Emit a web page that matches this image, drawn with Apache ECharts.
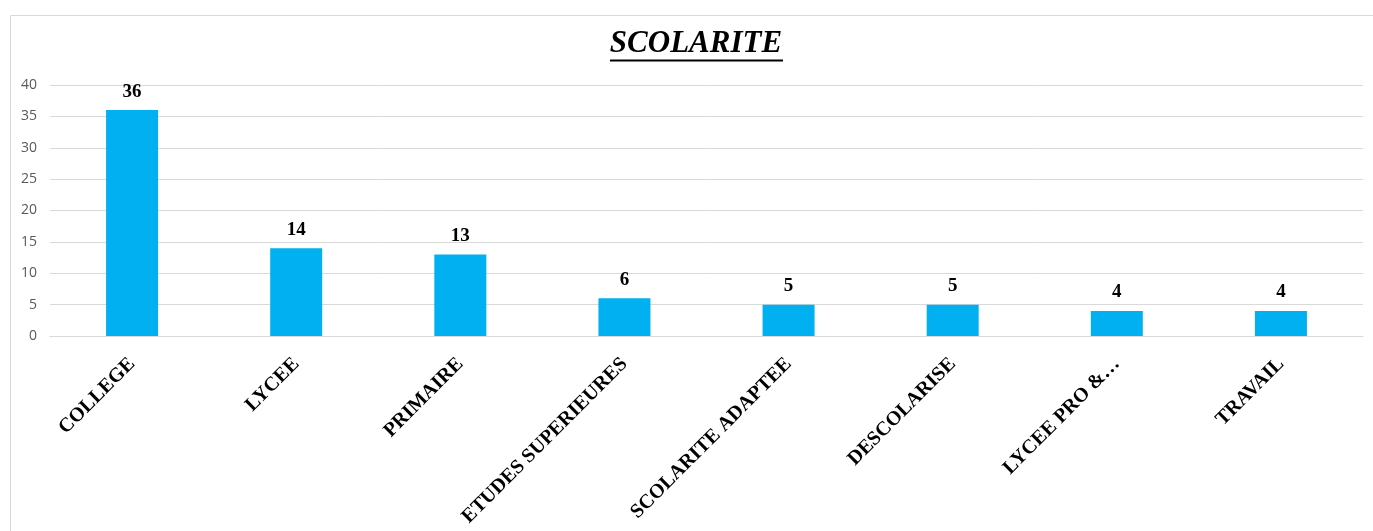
<!DOCTYPE html>
<html>
<head>
<meta charset="utf-8">
<title>SCOLARITE</title>
<script src="https://cdn.jsdelivr.net/npm/echarts@6/dist/echarts.min.js"></script>
<style>
  html, body { margin: 0; padding: 0; background: #fff; }
  #chart { width: 1373px; height: 531px; }
</style>
</head>
<body>
<div id="chart"></div>
<script>
// données
const categories = ['COLLEGE', 'LYCEE', 'PRIMAIRE', 'ETUDES SUPERIEURES', 'SCOLARITE ADAPTEE', 'DESCOLARISE', 'LYCEE PRO &…', 'TRAVAIL']
const values = [36, 14, 13, 6, 5, 5, 4, 4]
const yTicks = { min: 0, max: 40, interval: 5 }

const serif = '"Liberation Serif", "DejaVu Serif", serif'

const chart = echarts.init(document.getElementById('chart'))

const option = {
  animation: false,
  backgroundColor: '#fff',
  graphic: [
    {
      type: 'rect',
      shape: { x: 10.5, y: 15.5, width: 1400, height: 600 },
      style: { fill: 'none', stroke: '#d9d9d9', lineWidth: 1 },
      silent: true
    },
    {
      type: 'text',
      x: 696,
      y: 59,
      style: {
        text: 'SCOLARITE',
        font: 'italic bold 31px ' + serif,
        fill: '#000',
        textAlign: 'center',
        textVerticalAlign: 'bottom'
      }
    },
    {
      type: 'rect',
      shape: { x: 610, y: 59.5, width: 173, height: 2 },
      style: { fill: '#000' },
      silent: true
    }
  ],
  grid: {
    left: 50,
    right: 10,
    top: 85,
    bottom: 195
  },
  xAxis: {
    type: 'category',
    data: categories,
    axisTick: { show: false },
    axisLine: { lineStyle: { color: '#d9d9d9', width: 1 } },
    axisLabel: {
      interval: 0,
      rotate: 45,
      margin: 25,
      color: '#000',
      fontFamily: serif,
      fontWeight: 'bold',
      fontSize: 20
    }
  },
  yAxis: {
    type: 'value',
    min: yTicks.min,
    max: yTicks.max,
    interval: yTicks.interval,
    axisLine: { show: false },
    axisTick: { show: false },
    axisLabel: {
      color: '#595959',
      fontSize: 14,
      margin: 13,
      fontFamily: '"Open Sans", "Liberation Sans", sans-serif'
    },
    splitLine: { lineStyle: { color: '#d9d9d9', width: 1 } }
  },
  series: [
    {
      type: 'bar',
      data: values,
      barWidth: 52,
      itemStyle: { color: '#00B0F0' },
      label: {
        show: true,
        position: 'top',
        distance: 9,
        color: '#000',
        fontFamily: serif,
        fontWeight: 'bold',
        fontSize: 19
      }
    }
  ]
}

chart.setOption(option)
</script>
</body>
</html>
